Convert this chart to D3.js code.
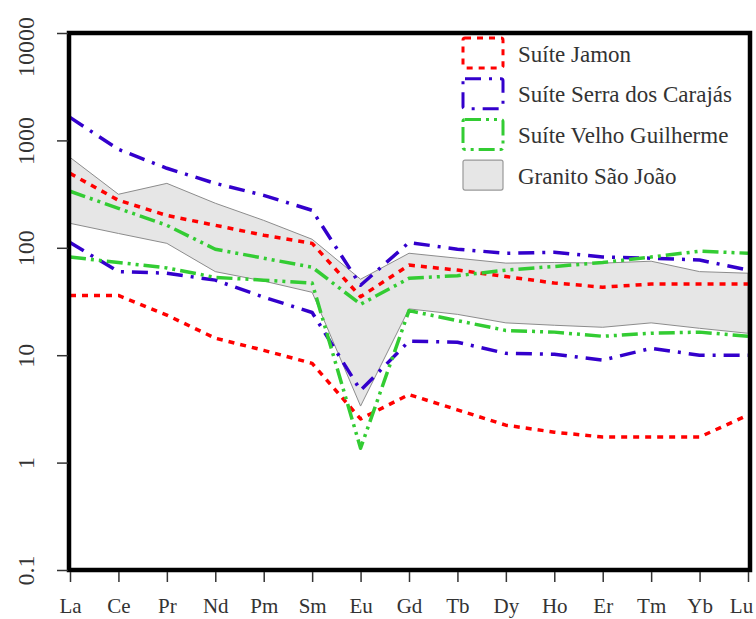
<!DOCTYPE html>
<html>
<head>
<meta charset="utf-8">
<script src="https://cdn.jsdelivr.net/npm/d3@7"></script>
<style>
  body { margin: 0; background: #fff; }
  svg { display: block; }
  text { font-family: "Liberation Serif", "DejaVu Serif", serif; fill: #333; }
</style>
</head>
<body>
<svg id="chart" width="756" height="619"></svg>
<script>
// REE elements
var elements = ["La", "Ce", "Pr", "Nd", "Pm", "Sm", "Eu", "Gd", "Tb", "Dy", "Ho", "Er", "Tm", "Yb", "Lu"];
var yTicks = [0.1, 1, 10, 100, 1000, 10000];

// Suíte Jamon (max / min)
var jamonMax = [493, 277, 200, 162, 131, 110, 35, 69, 62, 54, 47, 43, 46, 46, 46];
var jamonMin = [36, 36, 23.6, 14.4, 11.1, 8.4, 2.55, 4.3, 3.1, 2.23, 1.92, 1.73, 1.73, 1.73, 2.77];
// Suíte Serra dos Carajás
var carajasMax = [1637, 825, 550, 398, 308, 223, 44.8, 112, 97, 89, 91, 82, 80, 77, 62];
var carajasMin = [112, 60, 58, 50, 34.7, 25, 4.7, 13.5, 13.2, 10.4, 10.2, 9.0, 11.6, 10, 10];
// Suíte Velho Guilherme
var velhoMax = [336, 233, 162, 97, 80, 66, 29.8, 52, 55, 62, 67, 73, 82, 93, 89];
var velhoMin = [82, 73, 65, 53, 50, 47, 1.36, 26, 21, 17, 16.4, 15, 16, 16.4, 15];
// Granito São João (field)
var saoJoaoMax = [695, 315, 398, 260, 180, 120, 51, 89, 80, 72, 73, 72, 75, 60, 58];
var saoJoaoMin = [169, 136, 110, 60, 49, 38.5, 3.36, 27, 24, 20, 19, 18.2, 20, 17.8, 16];

var legendLabels = ["Suíte Jamon", "Suíte Serra dos Carajás", "Suíte Velho Guilherme", "Granito São João"];

var svg = d3.select("#chart");
var mLeft = 70, mRight = 748, mTop = 33, mBottom = 570;

var x = d3.scalePoint().domain(elements).range([mLeft, mRight]);
var y = d3.scaleLog().domain([0.1, 10000]).range([mBottom, mTop]);

var series = [
    { data: [jamonMax, jamonMin], color: "#ff0000", dash: "6,6" },
    { data: [carajasMax, carajasMin], color: "#3300cc", dash: "16,8,3,8" },
    { data: [velhoMax, velhoMin], color: "#33cc33", dash: "16,5,3,5,3,5" }
];

// gray field
var area = d3.area()
    .x(function(d, i) { return x(elements[i]); })
    .y0(function(d, i) { return y(saoJoaoMin[i]); })
    .y1(function(d) { return y(d); });

svg.append("path")
    .datum(saoJoaoMax)
    .attr("d", area)
    .attr("fill", "#e6e6e6")
    .attr("stroke", "#8c8c8c")
    .attr("stroke-width", 1);

var line = d3.line()
    .x(function(d, i) { return x(elements[i]); })
    .y(function(d) { return y(d); });

series.forEach(function(s) {
    s.data.forEach(function(vals) {
        svg.append("path")
            .datum(vals)
            .attr("d", line)
            .attr("fill", "none")
            .attr("stroke", s.color)
            .attr("stroke-width", 3.5)
            .attr("stroke-linejoin", "round")
            .attr("stroke-dasharray", s.dash);
    });
});

// frame
svg.append("rect")
    .attr("x", mLeft - 1).attr("y", mTop)
    .attr("width", mRight - mLeft + 3).attr("height", mBottom - mTop)
    .attr("fill", "none")
    .attr("stroke", "#000")
    .attr("stroke-width", 4.5);

// x axis
var xAxis = svg.append("g")
    .attr("transform", "translate(0," + (mBottom + 2) + ")")
    .call(d3.axisBottom(x).tickSize(10).tickPadding(16));
xAxis.select(".domain").remove();
xAxis.selectAll("line").attr("stroke", "#333").attr("stroke-width", 1.5);
xAxis.selectAll("text")
    .style("font-family", '"Liberation Serif", serif')
    .style("font-size", "21px")
    .attr("fill", "#333")
    .attr("dx", function(d) { return d === "Lu" ? -7 : 0; });

// y axis
var yAxis = svg.append("g")
    .attr("transform", "translate(" + (mLeft - 2) + ",0)")
    .call(d3.axisLeft(y).tickValues(yTicks).tickSize(11).tickFormat(function(d) { return String(d); }));
yAxis.select(".domain").remove();
yAxis.selectAll("line").attr("stroke", "#333").attr("stroke-width", 1.5);
yAxis.selectAll("text")
    .style("font-family", '"Liberation Serif", serif')
    .style("font-size", "24px")
    .attr("fill", "#333")
    .attr("text-anchor", "middle")
    .attr("x", null).attr("dy", null)
    .attr("transform", function(d) {
        var w = String(d).length * 13.4;
        var cy = Math.max(0, 13 + w / 2 - y(d));
        return "translate(-34," + cy + ") rotate(-90)";
    });

// legend
var legend = svg.append("g").attr("transform", "translate(462,37)");
legendLabels.forEach(function(lab, i) {
    var g = legend.append("g").attr("transform", "translate(0," + (i * 40.7) + ")");
    var r = g.append("rect")
        .attr("x", 1).attr("y", 1)
        .attr("width", 40).attr("height", 30)
        .attr("rx", 2);
    if (i < 3) {
        r.attr("fill", "none")
            .attr("stroke", series[i].color)
            .attr("stroke-width", 3)
            .attr("stroke-dasharray", series[i].dash);
    } else {
        r.attr("fill", "#e6e6e6").attr("stroke", "#999").attr("stroke-width", 1.2);
    }
    g.append("text")
        .attr("x", 56).attr("y", 17)
        .attr("dominant-baseline", "central")
        .style("font-size", "23px")
        .text(lab);
});
</script>
</body>
</html>
